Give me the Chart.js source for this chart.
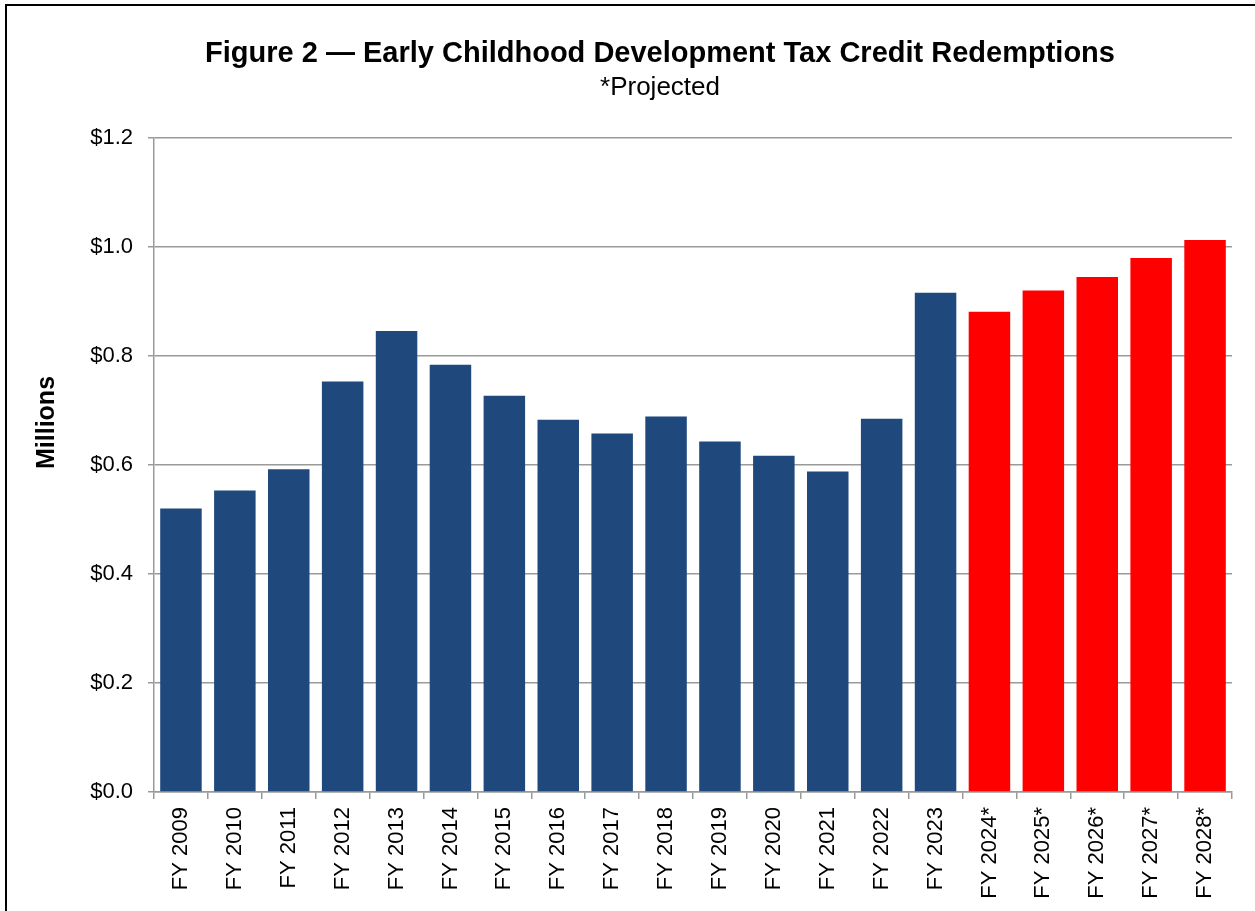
<!DOCTYPE html>
<html>
<head>
<meta charset="utf-8">
<script src="https://cdn.jsdelivr.net/npm/chart.js@4.4.1/dist/chart.umd.min.js"></script>
<style>
  html, body { margin: 0; padding: 0; background: #fff; overflow: hidden; }
  #wrap { position: relative; width: 1255px; height: 911px; overflow: hidden; }
  #frame { position: absolute; left: 5px; top: 4px; width: 1400px; height: 1000px;
           border-left: 2.5px solid #000; border-top: 2px solid #000; pointer-events: none; }
  canvas { position: absolute; left: 0; top: 0; }
</style>
</head>
<body>
<div id="wrap">
  <canvas id="myChart" width="1320" height="911"></canvas>
  <div id="frame"></div>
</div>
<script>
// Fiscal years (projected ones marked with *)
const years = ['FY 2009', 'FY 2010', 'FY 2011', 'FY 2012', 'FY 2013', 'FY 2014', 'FY 2015',
               'FY 2016', 'FY 2017', 'FY 2018', 'FY 2019', 'FY 2020', 'FY 2021', 'FY 2022',
               'FY 2023', 'FY 2024*', 'FY 2025*', 'FY 2026*', 'FY 2027*', 'FY 2028*'];

// Redemptions, $ millions
const redemptions = [0.520, 0.553, 0.592, 0.753, 0.846, 0.784, 0.727, 0.683, 0.658, 0.689,
                     0.643, 0.617, 0.588, 0.685, 0.916, 0.881, 0.920, 0.945, 0.980, 1.013];

const projected = [false, false, false, false, false, false, false, false, false, false,
                   false, false, false, false, false, true, true, true, true, true];

const FONT = 'Arial, "Liberation Sans", sans-serif';
const GRID = '#9a9a9a';

// y axis title sits a bit above the middle, so draw it by hand
const axisLabel = {
    id: 'axisLabel',
    afterDraw(chart) {
        const a = chart.chartArea;
        const ctx = chart.ctx;
        ctx.save();
        ctx.translate(47, a.top + (a.bottom - a.top) * 0.435);
        ctx.rotate(-Math.PI / 2);
        ctx.font = 'bold 25px ' + FONT;
        ctx.fillStyle = '#000';
        ctx.textAlign = 'center';
        ctx.textBaseline = 'middle';
        ctx.fillText('Millions', 0, 0);
        ctx.restore();
    }
};

new Chart(document.getElementById('myChart'), {
    type: 'bar',
    data: {
        labels: years,
        datasets: [{
            data: redemptions,
            backgroundColor: projected.map(p => p ? '#ff0000' : '#1f497d'),
            borderWidth: 0,
            categoryPercentage: 1,
            barPercentage: 0.77
        }]
    },
    options: {
        responsive: false,
        animation: false,
        layout: { padding: 0 },
        plugins: {
            legend: { display: false },
            tooltip: { enabled: false },
            title: {
                display: true,
                text: 'Figure 2 \u2014 Early Childhood Development Tax Credit Redemptions',
                color: '#000',
                font: { family: FONT, size: 29, weight: 'bold' },
                padding: { top: 37, bottom: 0 }
            },
            subtitle: {
                display: true,
                text: '*Projected',
                color: '#000',
                font: { family: FONT, size: 26 },
                padding: { top: 0, bottom: 35 }
            }
        },
        scales: {
            x: {
                offset: true,
                grid: { offset: true, drawOnChartArea: false, color: GRID, lineWidth: 1.5, tickLength: 7 },
                border: { color: GRID, width: 1.5 },
                ticks: {
                    color: '#000',
                    font: { family: FONT, size: 22 },
                    minRotation: 90,
                    maxRotation: 90,
                    padding: 8,
                    autoSkip: false
                },
                afterFit(scale) { scale.height = 119; }
            },
            y: {
                min: 0,
                max: 1.2,
                grid: { color: GRID, lineWidth: 1.5, tickLength: 6 },
                border: { color: GRID, width: 1.5 },
                ticks: {
                    stepSize: 0.2,
                    color: '#000',
                    font: { family: FONT, size: 22 },
                    padding: 15,
                    callback: v => '$' + v.toFixed(1)
                },
                afterFit(scale) { scale.width = 154; }
            },
            // empty right-hand margin so the title centres over the whole figure
            margin: {
                position: 'right',
                grid: { display: false },
                border: { display: false },
                ticks: { display: false },
                afterFit(scale) { scale.width = 88; }
            }
        }
    },
    plugins: [axisLabel]
});
</script>
</body>
</html>
